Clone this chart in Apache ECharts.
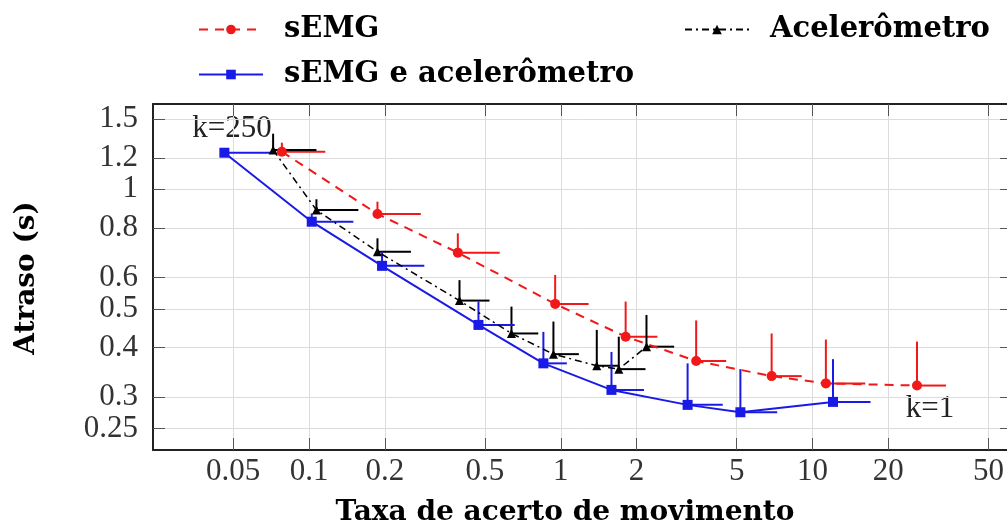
<!DOCTYPE html>
<html><head><meta charset="utf-8">
<script src="https://cdn.jsdelivr.net/npm/echarts@6/dist/echarts.min.js"></script>
<style>html,body{margin:0;padding:0;background:#fff}#c{width:1007px;height:532px}</style>
</head><body><div id="c"></div>
<script>
// tick labels
const xTicks = [0.05, 0.1, 0.2, 0.5, 1, 2, 5, 10, 20, 50];
const yTicks = [0.25, 0.3, 0.4, 0.5, 0.6, 0.8, 1, 1.2, 1.5];

// sEMG
const semgX    = [0.078, 0.187, 0.39, 0.95, 1.81, 3.45, 6.88, 11.3, 26.0];
const semgY    = [1.243, 0.867, 0.693, 0.515, 0.426, 0.370, 0.339, 0.325, 0.321];
const semgXErr = [0.116, 0.278, 0.572, 1.29, 2.42, 4.54, 9.06, 16.2, 33.9];
const semgYErr = [1.31, 0.931, 0.775, 0.609, 0.522, 0.468, 0.434, 0.419, 0.414];

// Acelerômetro
const accX    = [0.072, 0.107, 0.187, 0.396, 0.637, 0.935, 1.39, 1.70, 2.19];
const accY    = [1.256, 0.887, 0.697, 0.525, 0.434, 0.385, 0.360, 0.353, 0.402];
const accXErr = [0.107, 0.157, 0.254, 0.521, 0.814, 1.18, 1.70, 2.17, 2.82];
const accYErr = [1.38, 0.944, 0.753, 0.591, 0.507, 0.465, 0.443, 0.426, 0.483];

// sEMG e acelerômetro
const bothX    = [0.0461, 0.1025, 0.195, 0.471, 0.853, 1.59, 3.19, 5.17, 12.06];
const bothY    = [1.236, 0.829, 0.642, 0.456, 0.365, 0.313, 0.287, 0.275, 0.292];
const bothXErr = [0.072, 0.150, 0.287, 0.656, 1.057, 2.14, 4.40, 7.24, 17.0];
const bothYErr = [1.236, 0.870, 0.697, 0.522, 0.438, 0.390, 0.365, 0.353, 0.374];

const chart = echarts.init(document.getElementById('c'), null, {renderer: 'canvas'});

function fmt(v) { return String(+(+v).toPrecision(3)); }

function errSeries(id, xs, ys, xe, ye, color) {
  return {
    type: 'custom', id: id, silent: true, z: 1,
    data: xs.map((x, i) => [x, ys[i], xe[i], ye[i]]),
    encode: {x: [0, 2], y: [1, 3]},
    renderItem: function (params, api) {
      const p = api.coord([api.value(0), api.value(1)]);
      const ph = api.coord([api.value(2), api.value(1)]);
      const pv = api.coord([api.value(0), api.value(3)]);
      return {type: 'group', children: [
        {type: 'line', shape: {x1: p[0], y1: p[1], x2: ph[0], y2: ph[1]}, style: {stroke: color, lineWidth: 2}},
        {type: 'line', shape: {x1: p[0], y1: p[1], x2: pv[0], y2: pv[1]}, style: {stroke: color, lineWidth: 2}}
      ]};
    }
  };
}

function xAx(pos, main) {
  return {
    type: 'log', logBase: 10, min: 0.024, max: 62, position: pos, gridIndex: 0,
    axisLine: {show: true, onZero: false, lineStyle: {color: '#222', width: 2}},
    axisTick: {show: true, inside: true, length: 12, customValues: xTicks, lineStyle: {color: '#555', width: 1}},
    axisLabel: {show: main, customValues: xTicks, formatter: fmt, fontFamily: 'Liberation Serif', fontSize: 31, color: '#333', margin: 6},
    splitLine: {show: main, lineStyle: {color: '#dcdcdc', width: 1}},
    minorTick: {show: false}
  };
}
function yAx(pos, main) {
  return {
    type: 'log', logBase: 10, min: 0.221, max: 1.639, position: pos, gridIndex: 0,
    axisLine: {show: true, onZero: false, lineStyle: {color: '#222', width: 2}},
    axisTick: {show: true, inside: true, length: 12, customValues: yTicks, lineStyle: {color: '#555', width: 1}},
    axisLabel: {show: main, customValues: yTicks, formatter: fmt, fontFamily: 'Liberation Serif', fontSize: 31, color: '#333', margin: 15},
    splitLine: {show: main, lineStyle: {color: '#dcdcdc', width: 1}},
    minorTick: {show: false}
  };
}

const legendCommon = {
  orient: 'horizontal', padding: 0, itemWidth: 64, itemHeight: 12, selectedMode: false,
  textStyle: {fontFamily: 'DejaVu Serif', fontWeight: 'bold', fontSize: 29, color: '#000', padding: [0, 0, 0, 16]}
};

const option = {
  backgroundColor: '#fff',
  animation: false,
  grid: {left: 153, width: 859, top: 104, height: 346, containLabel: false, outerBoundsMode: 'none'},
  xAxis: [xAx('bottom', true), xAx('top', false)],
  yAxis: [yAx('left', true), yAx('right', false)],
  legend: [
    Object.assign({data: ['sEMG'], left: 198, top: 15}, legendCommon),
    Object.assign({data: ['Acelerômetro'], left: 684, top: 15}, legendCommon),
    Object.assign({data: ['sEMG e acelerômetro'], left: 198, top: 60}, legendCommon)
  ],
  graphic: [
    {type: 'text', x: 232, y: 129, style: {text: 'k=250', font: '31px "Liberation Serif"', fill: '#222', align: 'center', verticalAlign: 'middle'}},
    {type: 'text', x: 930, y: 409, style: {text: 'k=1', font: '31px "Liberation Serif"', fill: '#222', align: 'center', verticalAlign: 'middle'}},
    {type: 'text', x: 27, y: 278, rotation: Math.PI / 2, style: {text: 'Atraso (s)', font: 'bold 28px "DejaVu Serif"', fill: '#000', align: 'center', verticalAlign: 'middle'}},
    {type: 'text', x: 565, y: 513, style: {text: 'Taxa de acerto de movimento', font: 'bold 28px "DejaVu Serif"', fill: '#000', align: 'center', verticalAlign: 'middle'}}
  ],
  series: [
    errSeries('semgErr', semgX, semgY, semgXErr, semgYErr, '#f01818'),
    errSeries('accErr', accX, accY, accXErr, accYErr, '#000'),
    errSeries('bothErr', bothX, bothY, bothXErr, bothYErr, '#1a1ae6'),
    {
      name: 'sEMG', type: 'line', z: 3,
      data: semgX.map((x, i) => [x, semgY[i]]),
      symbol: 'circle', symbolSize: 10,
      itemStyle: {color: '#f01818'},
      lineStyle: {color: '#f01818', width: 2, type: [9, 7]}
    },
    {
      name: 'Acelerômetro', type: 'line', z: 3,
      data: accX.map((x, i) => [x, accY[i]]),
      symbol: 'triangle', symbolSize: 9,
      itemStyle: {color: '#000'},
      lineStyle: {color: '#000', width: 1.5, type: [7, 4, 2, 4]}
    },
    {
      name: 'sEMG e acelerômetro', type: 'line', z: 3,
      data: bothX.map((x, i) => [x, bothY[i]]),
      symbol: 'rect', symbolSize: 10,
      itemStyle: {color: '#1a1ae6'},
      lineStyle: {color: '#1a1ae6', width: 2, type: 'solid'}
    }
  ]
};
chart.setOption(option);
</script>
</body></html>
